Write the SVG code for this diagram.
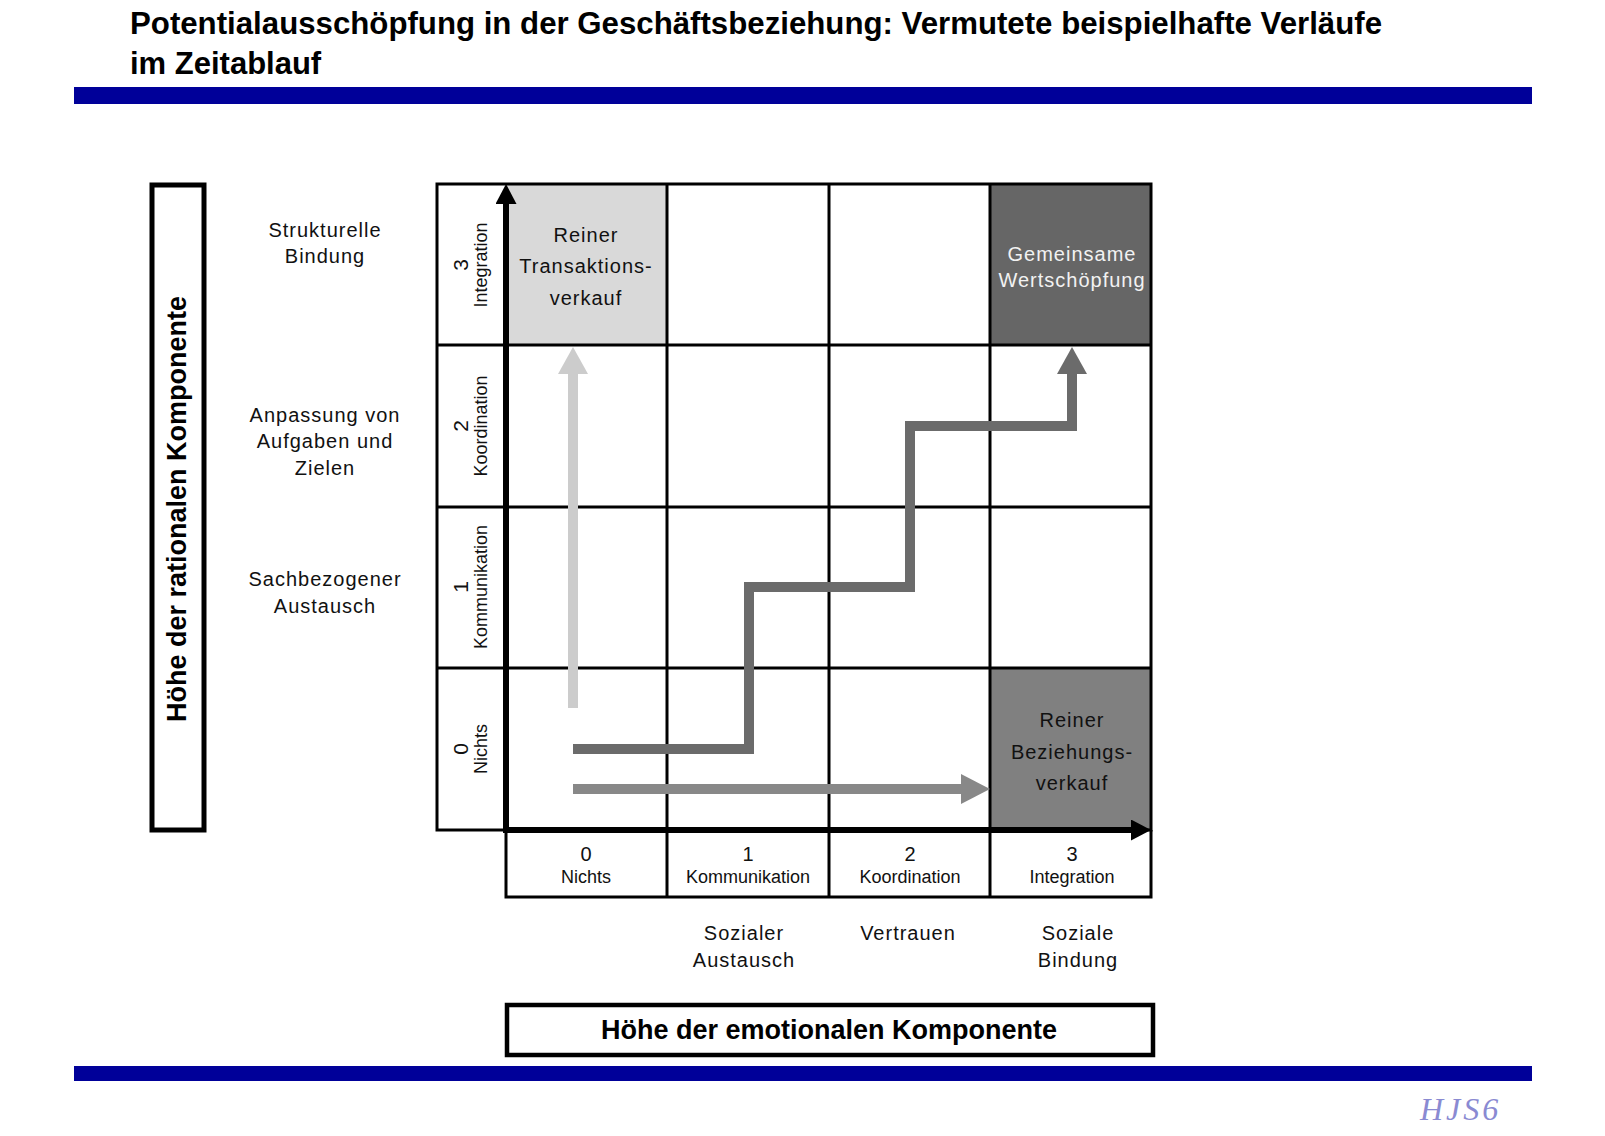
<svg xmlns="http://www.w3.org/2000/svg" width="1605" height="1136" viewBox="0 0 1605 1136">
  <style>
    .title{font-family:"Liberation Sans",Arial,sans-serif;font-weight:bold;font-size:31px;fill:#000}
    .axislbl{font-family:"Liberation Sans",Arial,sans-serif;font-weight:bold;font-size:27px;fill:#000;text-anchor:middle}
    .lbl{font-family:"Liberation Sans",Arial,sans-serif;font-size:20px;letter-spacing:1px;fill:#111;text-anchor:middle}
    .num{font-family:"Liberation Sans",Arial,sans-serif;font-size:20px;fill:#111;text-anchor:middle}
    .small{font-family:"Liberation Sans",Arial,sans-serif;font-size:18px;fill:#111;text-anchor:middle}
    .grid{fill:none;stroke:#000;stroke-width:3}
    .box{fill:#fff;stroke:#000;stroke-width:5}
    .axis{fill:none;stroke:#000;stroke-width:6}
    .bar{fill:#000099}
  </style>
  <defs>
    <marker id="headLight" viewBox="0 0 27 30" refX="0" refY="15" markerWidth="27" markerHeight="30" markerUnits="userSpaceOnUse" orient="auto">
      <path d="M0,0 L27,15 L0,30 z" fill="#cccccc"/>
    </marker>
    <marker id="headDark" viewBox="0 0 27 30" refX="0" refY="15" markerWidth="27" markerHeight="30" markerUnits="userSpaceOnUse" orient="auto">
      <path d="M0,0 L27,15 L0,30 z" fill="#6b6b6b"/>
    </marker>
    <marker id="headMid" viewBox="0 0 29 30" refX="0" refY="15" markerWidth="29" markerHeight="30" markerUnits="userSpaceOnUse" orient="auto">
      <path d="M0,0 L29,15 L0,30 z" fill="#888888"/>
    </marker>
    <marker id="headAxis" viewBox="0 0 20 21" refX="0" refY="10.5" markerWidth="20" markerHeight="21" markerUnits="userSpaceOnUse" orient="auto">
      <path d="M0,0 L20,10.5 L0,21 z" fill="#000"/>
    </marker>
  </defs>
  <rect width="1605" height="1136" fill="#fff"/>

  <g id="header">
    <text class="title" x="130" y="34" textLength="1252" lengthAdjust="spacingAndGlyphs">Potentialausschöpfung in der Geschäftsbeziehung: Vermutete beispielhafte Verläufe</text>
    <text class="title" x="130" y="74">im Zeitablauf</text>
    <rect class="bar" x="74" y="87" width="1458" height="17"/>
  </g>

  <g id="y-axis-label">
    <rect class="box" x="152" y="185" width="52" height="645"/>
    <text class="axislbl" transform="translate(186,509) rotate(-90)">Höhe der rationalen Komponente</text>
  </g>

  <g id="row-descriptions">
    <text class="lbl" x="325" y="237">Strukturelle</text>
    <text class="lbl" x="325" y="263">Bindung</text>
    <text class="lbl" x="325" y="422">Anpassung von</text>
    <text class="lbl" x="325" y="448">Aufgaben und</text>
    <text class="lbl" x="325" y="475">Zielen</text>
    <text class="lbl" x="325" y="586">Sachbezogener</text>
    <text class="lbl" x="325" y="613">Austausch</text>
  </g>

  <g id="cell-transaktion">
    <rect x="506" y="184" width="161" height="161" fill="#d9d9d9"/>
    <text class="lbl" x="586" y="242" fill="#222">Reiner</text>
    <text class="lbl" x="586" y="273" fill="#222">Transaktions-</text>
    <text class="lbl" x="586" y="305" fill="#222">verkauf</text>
  </g>
  <g id="cell-wertschoepfung">
    <rect x="990" y="184" width="161" height="161" fill="#666666"/>
    <text class="lbl" x="1072" y="261" style="fill:#f2f2f2">Gemeinsame</text>
    <text class="lbl" x="1072" y="287" style="fill:#f2f2f2">Wertschöpfung</text>
  </g>
  <g id="cell-beziehung">
    <rect x="990" y="668" width="161" height="162" fill="#808080"/>
    <text class="lbl" x="1072" y="727">Reiner</text>
    <text class="lbl" x="1072" y="759">Beziehungs-</text>
    <text class="lbl" x="1072" y="790">verkauf</text>
  </g>

  <g id="grid">
    <rect class="grid" x="437" y="184" width="714" height="646"/>
    <line class="grid" x1="437" y1="345" x2="1151" y2="345"/>
    <line class="grid" x1="437" y1="507" x2="1151" y2="507"/>
    <line class="grid" x1="437" y1="668" x2="1151" y2="668"/>
    <line class="grid" x1="667" y1="184" x2="667" y2="897"/>
    <line class="grid" x1="829" y1="184" x2="829" y2="897"/>
    <line class="grid" x1="990" y1="184" x2="990" y2="897"/>
    <polyline class="grid" points="506,830 506,897 1151,897 1151,830"/>
  </g>

  <g id="row-scale">
    <text class="num" transform="translate(468,265) rotate(-90)" style="font-size:21px">3</text>
    <text class="small" transform="translate(487,265) rotate(-90)">Integration</text>
    <text class="num" transform="translate(468,426) rotate(-90)" style="font-size:21px">2</text>
    <text class="small" transform="translate(487,426) rotate(-90)">Koordination</text>
    <text class="num" transform="translate(468,587) rotate(-90)" style="font-size:21px">1</text>
    <text class="small" transform="translate(487,587) rotate(-90)">Kommunikation</text>
    <text class="num" transform="translate(468,749) rotate(-90)" style="font-size:21px">0</text>
    <text class="small" transform="translate(487,749) rotate(-90)">Nichts</text>
  </g>

  <g id="column-scale">
    <text class="num" x="586" y="861">0</text>
    <text class="small" x="586" y="883">Nichts</text>
    <text class="num" x="748" y="861">1</text>
    <text class="small" x="748" y="883">Kommunikation</text>
    <text class="num" x="910" y="861">2</text>
    <text class="small" x="910" y="883">Koordination</text>
    <text class="num" x="1072" y="861">3</text>
    <text class="small" x="1072" y="883">Integration</text>
  </g>

  <g id="column-descriptions">
    <text class="lbl" x="744" y="940">Sozialer</text>
    <text class="lbl" x="744" y="967">Austausch</text>
    <text class="lbl" x="908" y="940">Vertrauen</text>
    <text class="lbl" x="1078" y="940">Soziale</text>
    <text class="lbl" x="1078" y="967">Bindung</text>
  </g>

  <g id="x-axis-label">
    <rect class="box" x="507" y="1005" width="646" height="50" style="stroke-width:4.5"/>
    <text class="axislbl" x="829" y="1039">Höhe der emotionalen Komponente</text>
  </g>

  <g id="connectors">
    <line class="axis" x1="506" y1="833" x2="506" y2="204" marker-end="url(#headAxis)"/>
    <line class="axis" x1="503" y1="830" x2="1131" y2="830" marker-end="url(#headAxis)"/>
    <line x1="573" y1="708" x2="573" y2="374" stroke="#cccccc" stroke-width="10" marker-end="url(#headLight)"/>
    <polyline points="573,749 749,749 749,587 910,587 910,426 1072,426 1072,374" fill="none" stroke="#6b6b6b" stroke-width="10" stroke-linejoin="miter" marker-end="url(#headDark)"/>
    <line x1="573" y1="789" x2="961" y2="789" stroke="#888888" stroke-width="10" marker-end="url(#headMid)"/>
  </g>

  <g id="footer">
    <rect class="bar" x="74" y="1066" width="1458" height="15"/>
    <text x="1420" y="1120" font-family="'Liberation Serif',serif" font-style="italic" font-size="32" letter-spacing="3" fill="#8a8ad2">HJS6</text>
  </g>
</svg>
